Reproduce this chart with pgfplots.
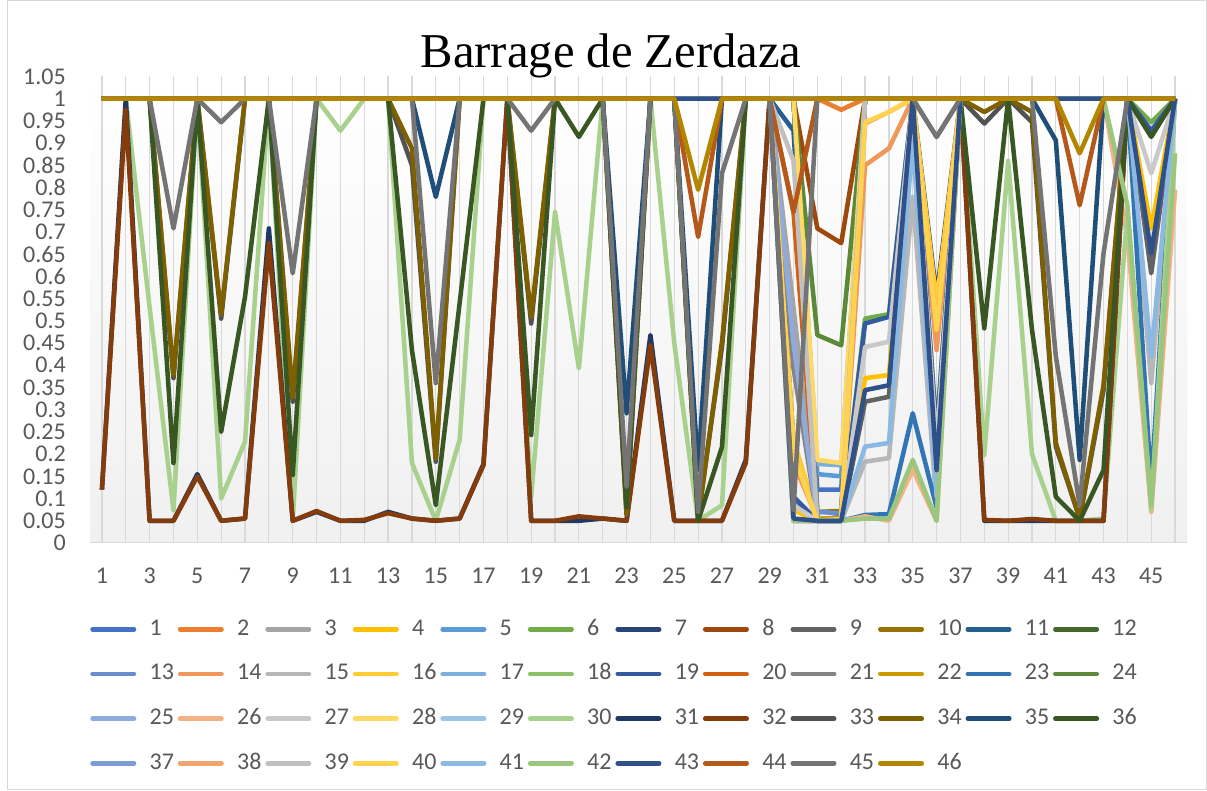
\documentclass[border=0pt]{standalone}
\usepackage{fontspec}
\setmainfont{Carlito}
\newfontfamily\titlefont{Liberation Serif}
\usepackage{pgfplots}
\usepackage{pgfplotstable}
\pgfplotsset{compat=1.18}
\usetikzlibrary{shadings}

\definecolor{c1}{HTML}{4472C4}\definecolor{c2}{HTML}{ED7D31}\definecolor{c3}{HTML}{A5A5A5}
\definecolor{c4}{HTML}{FFC000}\definecolor{c5}{HTML}{5B9BD5}\definecolor{c6}{HTML}{70AD47}
\definecolor{c7}{HTML}{264478}\definecolor{c8}{HTML}{9E480E}\definecolor{c9}{HTML}{636363}
\definecolor{c10}{HTML}{997300}\definecolor{c11}{HTML}{255E91}\definecolor{c12}{HTML}{43682B}
\definecolor{c13}{HTML}{698ED0}\definecolor{c14}{HTML}{F1975A}\definecolor{c15}{HTML}{B7B7B7}
\definecolor{c16}{HTML}{FFCD33}\definecolor{c17}{HTML}{7CAFDD}\definecolor{c18}{HTML}{8CC168}
\definecolor{c19}{HTML}{335AA1}\definecolor{c20}{HTML}{D26012}\definecolor{c21}{HTML}{848484}
\definecolor{c22}{HTML}{CC9A00}\definecolor{c23}{HTML}{3275B4}\definecolor{c24}{HTML}{5A8A39}
\definecolor{c25}{HTML}{8FAADC}\definecolor{c26}{HTML}{F4B183}\definecolor{c27}{HTML}{C9C9C9}
\definecolor{c28}{HTML}{FFD966}\definecolor{c29}{HTML}{9DC3E6}\definecolor{c30}{HTML}{A9D18E}
\definecolor{c31}{HTML}{203864}\definecolor{c32}{HTML}{843C0C}\definecolor{c33}{HTML}{525252}
\definecolor{c34}{HTML}{7F6000}\definecolor{c35}{HTML}{1F4E79}\definecolor{c36}{HTML}{385723}
\definecolor{c37}{HTML}{7C9CD6}\definecolor{c38}{HTML}{F2A46F}\definecolor{c39}{HTML}{C0C0C0}
\definecolor{c40}{HTML}{FFD34D}\definecolor{c41}{HTML}{8CB9E2}\definecolor{c42}{HTML}{9BC67E}
\definecolor{c43}{HTML}{305089}\definecolor{c44}{HTML}{B4581C}\definecolor{c45}{HTML}{747474}
\definecolor{c46}{HTML}{B38600}
\definecolor{gridc}{HTML}{D9D9D9}
\definecolor{tickc}{HTML}{595959}
\definecolor{bgbot}{HTML}{F0F0F0}

\pgfplotstableread[header=false]{
1 1 1 1 1 1 1 1 1 1 1  1 1 1 1 1 1 1 1 1 1  1 1 1 1 1 1 1 1 1 1  0.12 0.12 1 1 1 1 1 1 1 1  1 1 1 1 1 1
2 1 1 1 1 1 1 1 1 1 1  1 1 1 1 1 1 1 1 1 1  1 1 1 1 1 1 1 1 1 1  1 0.975 1 1 1 1 1 1 1 1  1 1 1 1 1 1
3 1 1 1 1 1 1 1 1 1 1  1 1 1 1 1 1 1 1 1 1  1 1 1 1 1 1 1 1 1 0.53  0.05 0.05 1 1 1 1 1 1 1 1  1 1 1 1 1 1
4 1 1 1 1 1 1 1 1 1 1  1 1 1 1 1 1 1 1 1 1  1 1 1 1 1 1 1 1 1 0.074  0.05 0.05 0.371 0.378 1 0.18 1 1 1 1  1 1 1 1 0.708 1
5 1 1 1 1 1 1 1 1 1 1  1 1 1 1 1 1 1 1 1 1  1 1 1 1 1 1 1 1 1 1  0.155 0.15 1 1 1 1 1 1 1 1  1 1 1 1 1 1
6 1 1 1 1 1 1 1 1 1 1  1 1 1 1 1 1 1 1 1 1  1 1 1 1 1 1 1 1 1 0.1  0.05 0.05 0.505 0.515 1 0.25 1 1 1 1  1 1 1 1 0.947 1
7 1 1 1 1 1 1 1 1 1 1  1 1 1 1 1 1 1 1 1 1  1 1 1 1 1 1 1 1 1 0.228  0.055 0.055 1 1 1 0.554 1 1 1 1  1 1 1 1 1 1
8 1 1 1 1 1 1 1 1 1 1  1 1 1 1 1 1 1 1 1 1  1 1 1 1 1 1 1 1 1 1  0.708 0.675 1 1 1 1 1 1 1 1  1 1 1 1 1 1
9 1 1 1 1 1 1 1 1 1 1  1 1 1 1 1 1 1 1 1 1  1 1 1 1 1 1 1 1 1 0.05  0.05 0.05 0.318 0.329 1 0.153 1 1 1 1  1 1 1 1 0.607 1
10 1 1 1 1 1 1 1 1 1 1  1 1 1 1 1 1 1 1 1 1  1 1 1 1 1 1 1 1 1 1  0.07 0.072 1 1 1 1 1 1 1 1  1 1 1 1 1 1
11 1 1 1 1 1 1 1 1 1 1  1 1 1 1 1 1 1 1 1 1  1 1 1 1 1 1 1 1 1 0.928  0.05 0.05 1 1 1 1 1 1 1 1  1 1 1 1 1 1
12 1 1 1 1 1 1 1 1 1 1  1 1 1 1 1 1 1 1 1 1  1 1 1 1 1 1 1 1 1 1  0.05 0.052 1 1 1 1 1 1 1 1  1 1 1 1 1 1
13 1 1 1 1 1 1 1 1 1 1  1 1 1 1 1 1 1 1 1 1  1 1 1 1 1 1 1 1 1 1  0.07 0.067 1 1 1 1 1 1 1 1  1 1 1 1 1 1
14 1 1 1 1 1 1 1 1 1 1  1 1 1 1 1 1 1 1 1 1  1 1 1 1 1 1 1 1 1 0.18  0.055 0.055 0.85 0.888 1 0.434 1 1 1 1  1 1 1 1 1 1
15 1 1 1 1 1 1 1 1 1 1  1 1 1 1 1 1 1 1 1 1  1 1 1 1 1 1 1 1 1 0.05  0.05 0.05 0.183 0.191 0.779 0.085 1 1 1 1  1 1 1 1 0.36 1
16 1 1 1 1 1 1 1 1 1 1  1 1 1 1 1 1 1 1 1 1  1 1 1 1 1 1 1 1 1 0.232  0.055 0.055 1 1 1 0.54 1 1 1 1  1 1 1 1 1 1
17 1 1 1 1 1 1 1 1 1 1  1 1 1 1 1 1 1 1 1 1  1 1 1 1 1 1 1 1 1 1  0.178 0.175 1 1 1 1 1 1 1 1  1 1 1 1 1 1
18 1 1 1 1 1 1 1 1 1 1  1 1 1 1 1 1 1 1 1 1  1 1 1 1 1 1 1 1 1 1  1 1 1 1 1 1 1 1 1 1  1 1 1 1 1 1
19 1 1 1 1 1 1 1 1 1 1  1 1 1 1 1 1 1 1 1 1  1 1 1 1 1 1 1 1 1 0.104  0.05 0.05 0.494 0.509 1 0.243 1 1 1 1  1 1 1 1 0.928 1
20 1 1 1 1 1 1 1 1 1 1  1 1 1 1 1 1 1 1 1 1  1 1 1 1 1 1 1 1 1 0.745  0.05 0.05 1 1 1 1 1 1 1 1  1 1 1 1 1 1
21 1 1 1 1 1 1 1 1 1 1  1 1 1 1 1 1 1 1 1 1  1 1 1 1 1 1 1 1 1 0.393  0.05 0.06 1 1 1 0.914 1 1 1 1  1 1 1 1 1 1
22 1 1 1 1 1 1 1 1 1 1  1 1 1 1 1 1 1 1 1 1  1 1 1 1 1 1 1 1 1 1  0.055 0.055 1 1 1 1 1 1 1 1  1 1 1 1 1 1
23 1 1 1 1 1 1 1 1 1 1  1 1 1 1 1 1 1 1 1 1  1 1 1 1 1 1 1 1 1 1  0.05 0.05 0.063 0.065 0.292 0.08 1 1 1 1  1 1 1 1 0.127 1
24 1 1 1 1 1 1 1 1 1 1  1 1 1 1 1 1 1 1 1 1  1 1 1 1 1 1 1 1 1 1  0.468 0.445 1 1 1 1 1 1 1 1  1 1 1 1 1 1
25 1 1 1 1 1 1 1 1 1 1  1 1 1 1 1 1 1 1 1 1  1 1 1 1 1 1 1 1 1 0.45  0.05 0.05 1 1 1 1 1 1 1 1  1 1 1 1 1 1
26 1 1 1 1 1 1 1 1 1 1  1 1 1 1 1 1 1 1 1 1  1 1 1 1 1 1 1 1 1 0.05  0.05 0.05 0.06 0.05 0.165 0.05 1 1 1 1  1 1 1 0.689 0.07 0.795
27 1 1 1 1 1 1 1 1 1 1  1 1 1 1 1 1 1 1 1 1  1 1 1 1 1 1 1 1 1 0.085  0.05 0.05 0.441 0.453 1 0.216 1 1 1 1  1 1 1 1 0.832 1
28 1 1 1 1 1 1 1 1 1 1  1 1 1 1 1 1 1 1 1 1  1 1 1 1 1 1 1 1 1 1  0.187 0.18 1 1 1 1 1 1 1 1  1 1 1 1 1 1
29 1 1 1 1 1 1 1 1 1 1  1 1 1 1 1 1 1 1 1 1  1 1 1 1 1 1 1 1 1 1  1 1 1 1 1 1 1 1 1 1  1 1 1 1 1 1
30 1 1 0.53 0.074 1 0.1 0.228 1 0.05 1  0.928 1 1 0.18 0.05 0.232 1 1 0.104 0.745  0.393 1 1 1 0.45 0.05 0.085 1 1 1  1 1 1 1 1 1 1 0.198 0.86 0.2  0.05 0.05 0.055 0.745 0.075 1
31 0.12 1 0.05 0.05 0.155 0.05 0.055 0.708 0.05 0.07  0.05 0.05 0.07 0.055 0.05 0.055 0.178 1 0.05 0.05  0.05 0.055 0.05 0.468 0.05 0.05 0.05 0.187 1 1  1 1 1 1 1 1 1 0.05 0.05 0.05  0.05 0.05 0.05 1 1 1
32 0.12 0.975 0.05 0.05 0.15 0.05 0.055 0.675 0.05 0.072  0.05 0.052 0.067 0.055 0.05 0.055 0.175 1 0.05 0.05  0.06 0.055 0.05 0.445 0.05 0.05 0.05 0.18 1 1  1 1 1 1 1 1 1 0.052 0.05 0.054  0.05 0.05 0.05 1 1 1
33 1 1 1 0.371 1 0.505 1 1 0.318 1  1 1 1 0.85 0.183 1 1 1 0.494 1  1 1 0.063 1 1 0.06 0.441 1 1 1  1 1 1 1 1 1 1 0.944 1 0.947  0.217 0.055 0.344 1 1 1
34 1 1 1 0.378 1 0.515 1 1 0.329 1  1 1 1 0.888 0.191 1 1 1 0.509 1  1 1 0.065 1 1 0.05 0.453 1 1 1  1 1 1 1 1 1 1 0.97 1 0.97  0.225 0.055 0.355 1 1 1
35 1 1 1 1 1 1 1 1 1 1  1 1 1 1 0.779 1 1 1 1 1  1 1 0.292 1 1 0.165 1 1 1 1  1 1 1 1 1 1 1 1 1 1  0.906 0.187 1 1 1 1
36 1 1 1 0.18 1 0.25 0.554 1 0.153 1  1 1 1 0.434 0.085 0.54 1 1 0.243 1  0.914 1 0.08 1 1 0.05 0.216 1 1 1  1 1 1 1 1 1 1 0.483 1 0.48  0.104 0.05 0.164 1 0.914 1
37 1 1 1 1 1 1 1 1 1 1  1 1 1 1 1 1 1 1 1 1  1 1 1 1 1 1 1 1 1 1  1 1 1 1 1 1 1 1 1 1  1 1 1 1 1 1
38 1 1 1 1 1 1 1 1 1 1  1 1 1 1 1 1 1 1 1 1  1 1 1 1 1 1 1 1 1 0.198  0.05 0.052 0.944 0.97 1 0.483 1 1 1 1  1 1 1 1 1 1
39 1 1 1 1 1 1 1 1 1 1  1 1 1 1 1 1 1 1 1 1  1 1 1 1 1 1 1 1 1 0.86  0.05 0.05 1 1 1 1 1 1 1 1  1 1 1 1 1 1
40 1 1 1 1 1 1 1 1 1 1  1 1 1 1 1 1 1 1 1 1  1 1 1 1 1 1 1 1 1 0.2  0.05 0.054 0.947 0.97 1 0.48 1 1 1 1  1 1 1 1 1 1
41 1 1 1 1 1 1 1 1 1 1  1 1 1 1 1 1 1 1 1 1  1 1 1 1 1 1 1 1 1 0.05  0.05 0.05 0.217 0.225 0.906 0.104 1 1 1 1  1 1 1 1 0.42 1
42 1 1 1 1 1 1 1 1 1 1  1 1 1 1 1 1 1 1 1 1  1 1 1 1 1 1 1 1 1 0.05  0.05 0.05 0.055 0.055 0.187 0.05 1 1 1 1  1 1 1 0.76 0.085 0.877
43 1 1 1 1 1 1 1 1 1 1  1 1 1 1 1 1 1 1 1 1  1 1 1 1 1 1 1 1 1 0.055  0.05 0.05 0.344 0.355 1 0.164 1 1 1 1  1 1 1 1 0.652 1
44 1 1 1 1 1 1 1 1 1 1  1 1 1 1 1 1 1 1 1 1  1 1 1 1 1 0.689 1 1 1 0.745  1 1 1 1 1 1 1 1 1 1  1 0.76 1 1 1 1
45 1 1 1 0.708 1 0.947 1 1 0.607 1  1 1 1 1 0.36 1 1 1 0.928 1  1 1 0.127 1 1 0.07 0.832 1 1 0.075  1 1 1 1 1 0.914 1 1 1 1  0.42 0.085 0.652 1 1 1
46 1 1 1 1 1 1 1 1 1 1  1 1 1 1 1 1 1 1 1 1  1 1 1 1 1 0.795 1 1 1 1  1 1 1 1 1 1 1 1 1 1  1 0.877 1 1 1 1
}\M

\begin{document}
\begin{tikzpicture}
\path[use as bounding box] (0,0) rectangle (905.25pt,593.25pt);
\fill[white] (0,0) rectangle (905.25pt,593.25pt);
\draw[gridc, line width=0.75pt] (5.25pt,0.75pt) rectangle (904.5pt,592.5pt);
\begin{axis}[
  at={(67.5pt,186pt)}, anchor=south west,
  scale only axis, width=822.75pt, height=349.9pt,
  xmin=0.5, xmax=46.5, ymin=0, ymax=1.05,
  axis background/.style={shade, top color=white, bottom color=bgbot},
  axis line style={draw=none},
  tick style={draw=none},
  xtick={1,3,...,45}, minor xtick={2,4,...,46},
  xmajorgrids, xminorgrids,
  major grid style={draw=gridc, line width=0.9pt},
  minor grid style={draw=gridc, line width=0.9pt},
  ytick={0,0.05,0.1,0.15,0.2,0.25,0.3,0.35,0.4,0.45,0.5,0.55,0.6,0.65,0.7,0.75,0.8,0.85,0.9,0.95,1,1.05},
  yticklabels={0,0.05,0.1,0.15,0.2,0.25,0.3,0.35,0.4,0.45,0.5,0.55,0.6,0.65,0.7,0.75,0.8,0.85,0.9,0.95,1,1.05},
  /pgf/number format/assume math mode=true,
  ticklabel style={font=\fontsize{18}{20}\selectfont, text=tickc, inner sep=0pt},
  yticklabel style={anchor=east, xshift=-18pt},
  xticklabel style={anchor=north, yshift=-18.5pt},
  title={\titlefont\fontsize{36.5}{40}\selectfont Barrage de Zerdaza},
  title style={at={(axis description cs:0.475,1.0)}, anchor=base, yshift=1pt, inner sep=0pt},
  no markers,
  legend columns=12,
  legend cell align=left,
  legend style={at={(axis description cs:0,0)}, anchor=north west, yshift=-56pt,
    draw=none, fill=none, inner sep=0pt, row sep=16.5pt,
    font=\fontsize{18}{20}\selectfont, text=tickc,
    nodes={inner sep=0pt, text height=13pt, text depth=4pt},
    /tikz/every odd column/.append style={column sep=10pt},
    /tikz/every even column/.append style={column sep=2.9pt}},
  legend image code/.code={\draw[#1, line width=3.4pt, line cap=round] (0pt,0pt) -- (31.1pt,0pt);},
]
\draw[gridc, line width=1.1pt] (axis cs:0.5,0) -- (axis cs:46.5,0);
\pgfplotsinvokeforeach{1,...,46}{
  \addplot[color=c#1, line width=3.4pt, line join=round] table[x index=0, y index=#1]{\M};
  \addlegendentry{#1}
}
\end{axis}
\end{tikzpicture}
\end{document}
